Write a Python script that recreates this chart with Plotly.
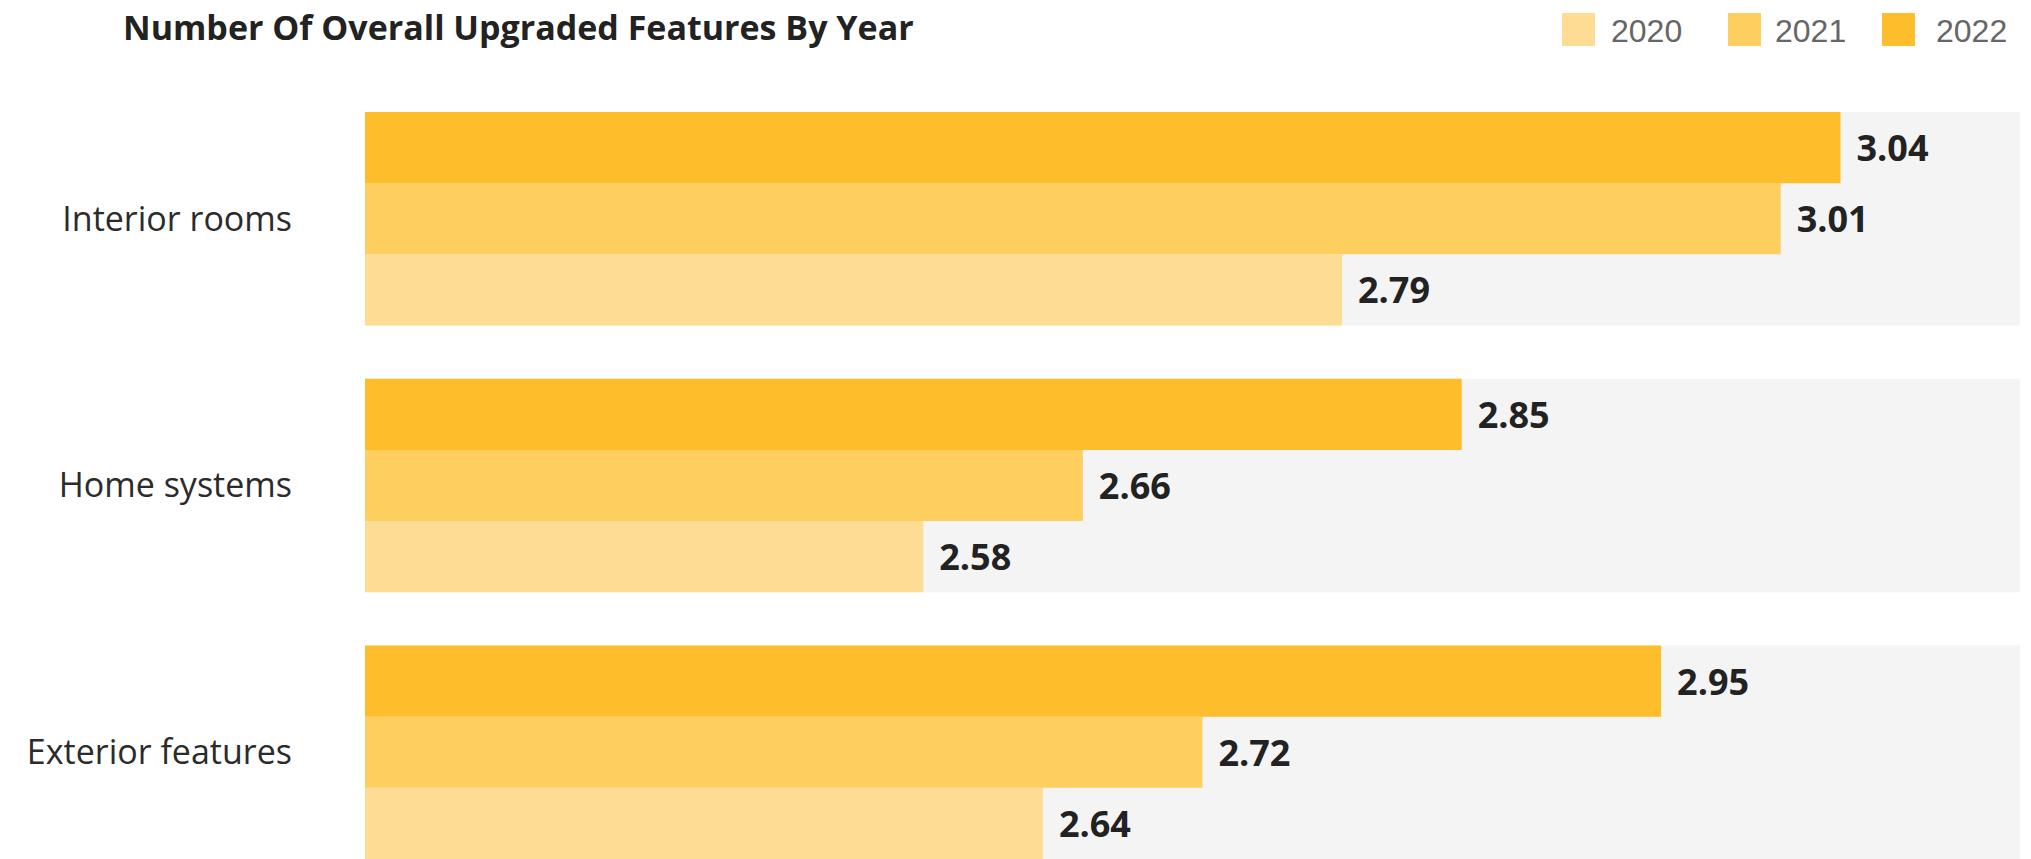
import plotly.graph_objects as go

# ----------------------------------
# DATA
# ----------------------------------

categories = ["Exterior features", "Home systems", "Interior rooms"]  # bottom -> top
years = ["2020", "2021", "2022"]
values_2020 = [2.64, 2.58, 2.79]
values_2021 = [2.72, 2.66, 3.01]
values_2022 = [2.95, 2.85, 3.04]

colors = ["#FFDC93", "#FECE5F", "#FEBD2B"]
band_color = "#F4F4F4"

# ----------------------------------
# LAYOUT NUMBERS
# (page body has an 8px margin, so screen px = figure px + 8)
# ----------------------------------

OFF = 8
W, H = 2031 - OFF, 859 - OFF
plot_left, plot_right = 365, 2020      # screen px
plot_top, plot_bottom = 112, 859       # screen px
L = plot_left - OFF
R = W + OFF - plot_right
T = plot_top - OFF
B = H + OFF - plot_bottom
x_range = [2.3, 3.13]

plot_w = W - L - R
plot_h = H - T - B


def px_x(x):
    return (x - plot_left) / plot_w


def px_y(y):
    return (plot_bottom - y) / plot_h


fig = go.Figure()

# grey band behind each category group
fig.add_trace(go.Bar(
    y=categories,
    x=[x_range[1]] * len(categories),
    orientation="h",
    marker=dict(color=band_color, line=dict(width=0)),
    hoverinfo="skip",
    showlegend=False,
    yaxis="y",
))

for year, vals, col in zip(years, [values_2020, values_2021, values_2022], colors):
    fig.add_trace(go.Bar(
        name=year,
        y=categories,
        x=vals,
        orientation="h",
        marker=dict(color=col, line=dict(width=0)),
        text=[f"{v:.2f}" for v in vals],
        texttemplate=" \u200a%{text}",
        textposition="outside",
        cliponaxis=False,
        textfont=dict(family="Open Sans", size=36, color="#222222", weight=700),
        showlegend=False,
        yaxis="y2",
    ))

# ----------------------------------
# CUSTOM LEGEND (big squares)
# ----------------------------------

legend_squares = [1562, 1728, 1882]
legend_texts = [1609, 1773, 1934]
shapes = []
annotations = []
for year, col, sx, tx in zip(years, colors, legend_squares, legend_texts):
    shapes.append(dict(
        type="rect", xref="paper", yref="paper",
        x0=px_x(sx), x1=px_x(sx + 33),
        y0=px_y(46), y1=px_y(13),
        fillcolor=col, line=dict(width=0),
    ))
    annotations.append(dict(
        xref="paper", yref="paper",
        x=px_x(tx), y=px_y(31),
        xanchor="left", yanchor="middle",
        text=year, showarrow=False,
        font=dict(family="Liberation Sans", size=32, color="#666666"),
    ))

fig.update_layout(
    width=W,
    height=H,
    margin=dict(l=L, r=R, t=T, b=B, autoexpand=False),
    paper_bgcolor="white",
    plot_bgcolor="white",
    barmode="group",
    bargap=0.2,
    bargroupgap=0,
    showlegend=False,
    title=dict(
        text="<b>Number Of Overall Upgraded Features By Year</b>",
        font=dict(family="Open Sans", size=34, color="#222222"),
        x=(123 - OFF) / W, xanchor="left", xref="container",
        y=1 - (28 - OFF) / H, yanchor="middle", yref="container",
    ),
    xaxis=dict(
        range=x_range,
        visible=False,
        showgrid=False,
        zeroline=False,
    ),
    yaxis=dict(
        type="category",
        categoryorder="array",
        categoryarray=categories,
        range=[-0.4, 2.4],
        showgrid=False,
        zeroline=False,
        showline=False,
        ticks="",
        ticklabelstandoff=72,
        tickfont=dict(family="Open Sans", size=34, color="#2B2B2B"),
    ),
    yaxis2=dict(
        type="category",
        categoryorder="array",
        categoryarray=categories,
        range=[-0.4, 2.4],
        overlaying="y",
        visible=False,
        showgrid=False,
        zeroline=False,
    ),
    shapes=shapes,
    annotations=annotations,
)

fig.write_html("out.html")
